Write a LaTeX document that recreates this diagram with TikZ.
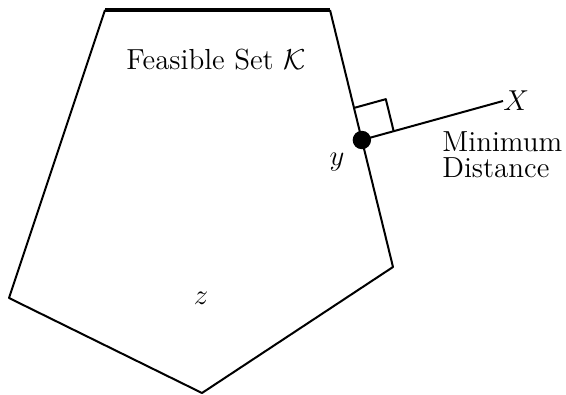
\documentclass[tikz,border=0pt]{standalone}
\usetikzlibrary{calc}
\begin{document}
\begin{tikzpicture}[x=0.5pt,y=-0.5pt,
  edge/.style={line width=1pt,line join=round},
  lbl/.style={font=\fontsize{14.5}{13}\selectfont,inner sep=0pt}]
\useasboundingbox (0,0) rectangle (566,395);
\coordinate (A) at (105,10);
\coordinate (B) at (330,10);
\coordinate (C) at (393,267);
\coordinate (D) at (202,393);
\coordinate (E) at (9,298);
\draw[edge] (B) -- (C) -- (D) -- (E) -- (A);
\draw[line width=1.6pt] (A) -- (B);
\coordinate (Y) at ($(B)!0.5058!(C)$);
\node[lbl,anchor=west] (X) at (503,101) {$X$};
\draw[edge] (Y) -- (X.west);
\coordinate (P) at ($(Y)!33pt*0.5!(B)$);
\coordinate (Q) at ($(Y)!33pt*0.5!(X.west)$);
\draw[edge] (P) -- ($(P)+(Q)-(Y)$) -- (Q);
\fill (Y) circle[radius=4.6pt];
\node[lbl] (ylab) at (337,162) {$y$};
\node[lbl] (zlab) at (201,298) {$z$};
\node[lbl] (K) at (216,60) {Feasible Set $\mathcal{K}$};
\node[lbl,align=left,anchor=north west] (md) at (442,131) {Minimum\\Distance};
\end{tikzpicture}
\end{document}
